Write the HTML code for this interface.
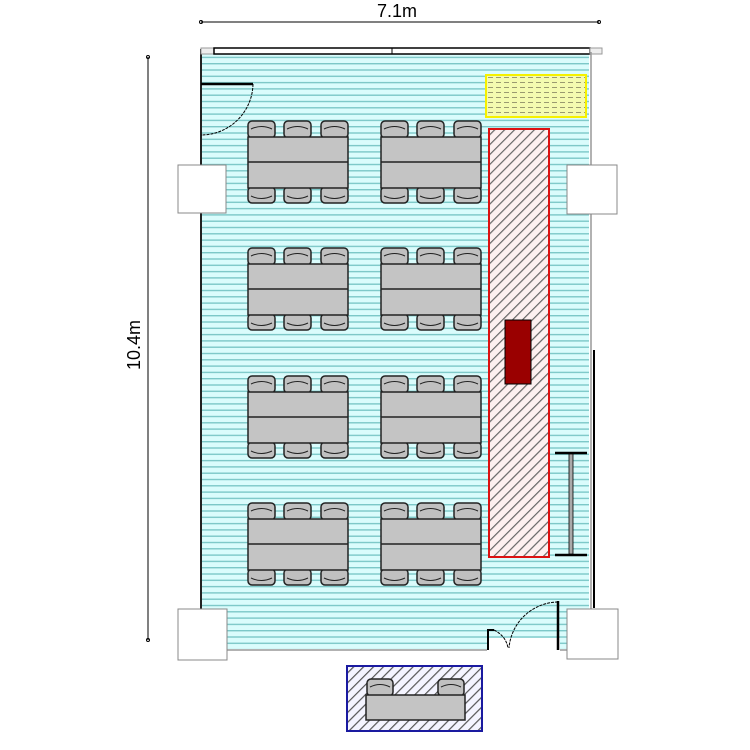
<!DOCTYPE html>
<html><head><meta charset="utf-8"><style>html,body{margin:0;padding:0;background:#fff}svg{display:block}</style></head>
<body>
<svg width="750" height="750" viewBox="0 0 750 750" xmlns="http://www.w3.org/2000/svg">
<defs>
<pattern id="stripes" width="6" height="6.3" patternUnits="userSpaceOnUse">
<rect width="6" height="6.3" fill="#dafcfc"/><rect y="0" width="6" height="1.4" fill="#7cc8c8"/>
</pattern>
<pattern id="hatch" width="7" height="7" patternUnits="userSpaceOnUse" patternTransform="rotate(45)">
<rect width="7" height="7" fill="#fdf0f0"/><rect x="0" width="1.2" height="7" fill="#666"/>
</pattern>
<pattern id="hatchb" width="7" height="7" patternUnits="userSpaceOnUse" patternTransform="rotate(45)">
<rect width="7" height="7" fill="#f4f4ff"/><rect x="0" width="1.2" height="7" fill="#555"/>
</pattern>
<pattern id="dots" width="8" height="5" patternUnits="userSpaceOnUse">
<rect width="8" height="5" fill="#f4fbb0"/><rect y="2" width="5" height="1" fill="#9a9a70"/>
</pattern>
<g id="chairT"><rect x="0" y="0" width="27" height="17" rx="4" fill="#c0c0c0" stroke="#222" stroke-width="1.5"/><path d="M3 8 Q13.5 3 24 8" fill="none" stroke="#222"/></g>
<g id="chairB"><rect x="0" y="0" width="27" height="16" rx="4" fill="#c0c0c0" stroke="#222" stroke-width="1.5"/><path d="M3 9 Q13.5 14 24 9" fill="none" stroke="#222"/></g>
<g id="tbl">
<use href="#chairT" x="0" y="0"/><use href="#chairT" x="36" y="0"/><use href="#chairT" x="73" y="0"/>
<use href="#chairB" x="0" y="66"/><use href="#chairB" x="36" y="66"/><use href="#chairB" x="73" y="66"/>
<rect x="0" y="16" width="100" height="51" fill="#c4c4c4" stroke="#222" stroke-width="1.5"/>
<line x1="0" y1="41" x2="100" y2="41" stroke="#222" stroke-width="1.5"/>
</g>
</defs>

<line x1="201" y1="22" x2="599" y2="22" stroke="#000"/>
<circle cx="201" cy="22" r="1.5" fill="none" stroke="#000"/><circle cx="599" cy="22" r="1.5" fill="none" stroke="#000"/>
<text x="397" y="17" font-family="Liberation Sans, sans-serif" font-size="18" text-anchor="middle">7.1m</text>
<line x1="148" y1="57" x2="148" y2="640" stroke="#000"/>
<circle cx="148" cy="57" r="1.5" fill="none" stroke="#000"/><circle cx="148" cy="640" r="1.5" fill="none" stroke="#000"/>
<text transform="translate(140,345) rotate(-90)" font-family="Liberation Sans, sans-serif" font-size="18" text-anchor="middle">10.4m</text>

<rect x="201" y="52" width="388" height="597" fill="url(#stripes)"/>
<line x1="201" y1="49" x2="201" y2="650" stroke="#222" stroke-width="2"/>
<rect x="201" y="48" width="13" height="6" fill="#eee" stroke="#999"/>
<rect x="214" y="48" width="376" height="6" fill="#fff" stroke="#000" stroke-width="1.5"/>
<line x1="392" y1="48" x2="392" y2="54" stroke="#000"/>
<rect x="590" y="48" width="12" height="6" fill="#eee" stroke="#999"/>
<line x1="591" y1="52" x2="591" y2="650" stroke="#999" stroke-width="1.5"/>
<line x1="594" y1="350" x2="594" y2="608" stroke="#000" stroke-width="2"/>
<line x1="201" y1="650" x2="591" y2="650" stroke="#999" stroke-width="1.5"/>

<rect x="178" y="165" width="48" height="48" fill="#fff" stroke="#888"/>
<rect x="567" y="165" width="50" height="49" fill="#fff" stroke="#888"/>
<rect x="178" y="609" width="49" height="51" fill="#fff" stroke="#888"/>
<rect x="567" y="609" width="51" height="50" fill="#fff" stroke="#888"/>

<line x1="201" y1="84" x2="253" y2="84" stroke="#000" stroke-width="2.5"/>
<path d="M253 84 A52 52 0 0 1 201 135" fill="none" stroke="#000" stroke-width="1" stroke-dasharray="3 1"/>

<use href="#tbl" x="248" y="121"/><use href="#tbl" x="381" y="121"/>
<use href="#tbl" x="248" y="248"/><use href="#tbl" x="381" y="248"/>
<use href="#tbl" x="248" y="376"/><use href="#tbl" x="381" y="376"/>
<use href="#tbl" x="248" y="503"/><use href="#tbl" x="381" y="503"/>

<rect x="486" y="75" width="100" height="42" fill="url(#dots)" stroke="#f5f000" stroke-width="2"/>
<rect x="489" y="129" width="60" height="428" fill="url(#hatch)" stroke="#dd1111" stroke-width="2"/>
<rect x="505" y="320" width="26" height="64" fill="#9a0000" stroke="#000" stroke-width="1"/>
<line x1="555" y1="453" x2="587" y2="453" stroke="#000" stroke-width="2.5"/>
<line x1="555" y1="555" x2="587" y2="555" stroke="#000" stroke-width="2.5"/>
<rect x="569" y="454" width="4" height="100" fill="#aaa" stroke="#000" stroke-width="0.8"/>

<rect x="487" y="638" width="73" height="14" fill="#fff"/>
<path d="M488 650 L488 630 L494 630" fill="none" stroke="#000" stroke-width="2"/>
<path d="M494 630 Q506 636 508 648" fill="none" stroke="#000" stroke-dasharray="3 1"/>
<line x1="558" y1="601" x2="558" y2="650" stroke="#000" stroke-width="2.5"/>
<path d="M558 602 A50 50 0 0 0 509 648" fill="none" stroke="#000" stroke-dasharray="3 1"/>

<rect x="347" y="666" width="135" height="65" fill="url(#hatchb)" stroke="#1a1aa0" stroke-width="2"/>
<g transform="translate(367,679)"><rect width="26" height="17" rx="4" fill="#c0c0c0" stroke="#222" stroke-width="1.5"/><path d="M3 8 Q13 3 23 8" fill="none" stroke="#222"/></g>
<g transform="translate(438,679)"><rect width="26" height="17" rx="4" fill="#c0c0c0" stroke="#222" stroke-width="1.5"/><path d="M3 8 Q13 3 23 8" fill="none" stroke="#222"/></g>
<rect x="366" y="695" width="99" height="25" fill="#c4c4c4" stroke="#222" stroke-width="1.5"/>
</svg>
</body></html>
